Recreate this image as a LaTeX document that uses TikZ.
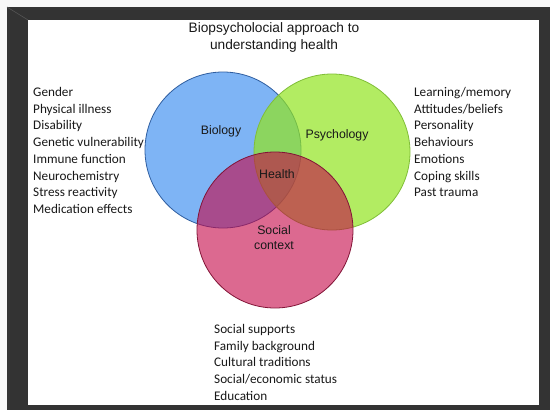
\documentclass[tikz,border=0pt]{standalone}
\usepackage{fontspec}
\setmainfont{Liberation Sans}
\newfontfamily\listfont{Carlito}

\definecolor{pageGrey}{RGB}{247,247,247}
\definecolor{frameGrey}{RGB}{51,51,51}
\definecolor{bevelGrey}{RGB}{85,85,85}
\definecolor{bioFill}{RGB}{126,180,245}
\definecolor{bioLine}{RGB}{47,94,160}
\definecolor{psyFill}{RGB}{146,228,32}
\definecolor{psyLine}{RGB}{128,190,55}
\definecolor{socFill}{RGB}{197,5,70}
\definecolor{socLine}{RGB}{130,20,55}
\definecolor{labelText}{RGB}{25,25,25}

\begin{document}
\begin{tikzpicture}[
    x=1pt,y=-1pt,
    vennCircle/.style={circle,minimum size=156pt,inner sep=0pt,line width=0.8pt},
    vennLabel/.style={text=labelText,font=\fontsize{12.3}{14.5}\selectfont,align=center},
    listText/.style={anchor=base west,inner sep=0pt,text=labelText,font=\listfont\fontsize{13.2}{15}\selectfont},
    titleText/.style={anchor=base,inner sep=0pt,text=labelText,font=\fontsize{13.7}{16}\selectfont},
  ]
    \useasboundingbox (0,0) rectangle (550,410);

    % slide frame
    \fill[pageGrey] (0,0) rectangle (550,410);
    \fill[frameGrey] (7,7) rectangle (550,410);
    \draw[bevelGrey,line width=0.6pt] (7,7) -- (28,20);
    \fill[white] (28,20) rectangle (539,405);

    % title
    \node[titleText] (title1) at (274,32.5) {Biopsycholocial approach to};
    \node[titleText] (title2) at (274,49.5) {understanding health};

    % venn circles
    \node[vennCircle,fill=bioFill,draw=bioLine] (biology) at (223,150) {};
    \node[vennCircle,fill=psyFill,fill opacity=0.7,draw=psyLine] (psychology) at (332,152) {};
    \node[vennCircle,fill=socFill,fill opacity=0.6,draw=socLine] (social) at (275,230) {};

    \node[vennLabel] (bioLabel) at (221,131) {Biology};
    \node[vennLabel] (psyLabel) at (337,135) {Psychology};
    \node[vennLabel] (health) at (277,174) {Health};
    \node[vennLabel] (socLabel) at (274,237.5) {Social\\context};

    % factor lists
    \foreach \item [count=\i] in {Gender,Physical illness,Disability,Genetic vulnerability,Immune function,Neurochemistry,Stress reactivity,Medication effects}
      \node[listText] (bio-\i) at (33,{79.8+16.7*\i}) {\item};
    \foreach \item [count=\i] in {Learning/memory,Attitudes/beliefs,Personality,Behaviours,Emotions,Coping skills,Past trauma}
      \node[listText] (psy-\i) at (414,{79.8+16.7*\i}) {\item};
    \foreach \item [count=\i] in {Social supports,Family background,Cultural traditions,Social/economic status,Education}
      \node[listText] (soc-\i) at (214,{316.8+16.7*\i}) {\item};
  \end{tikzpicture}
\end{document}
